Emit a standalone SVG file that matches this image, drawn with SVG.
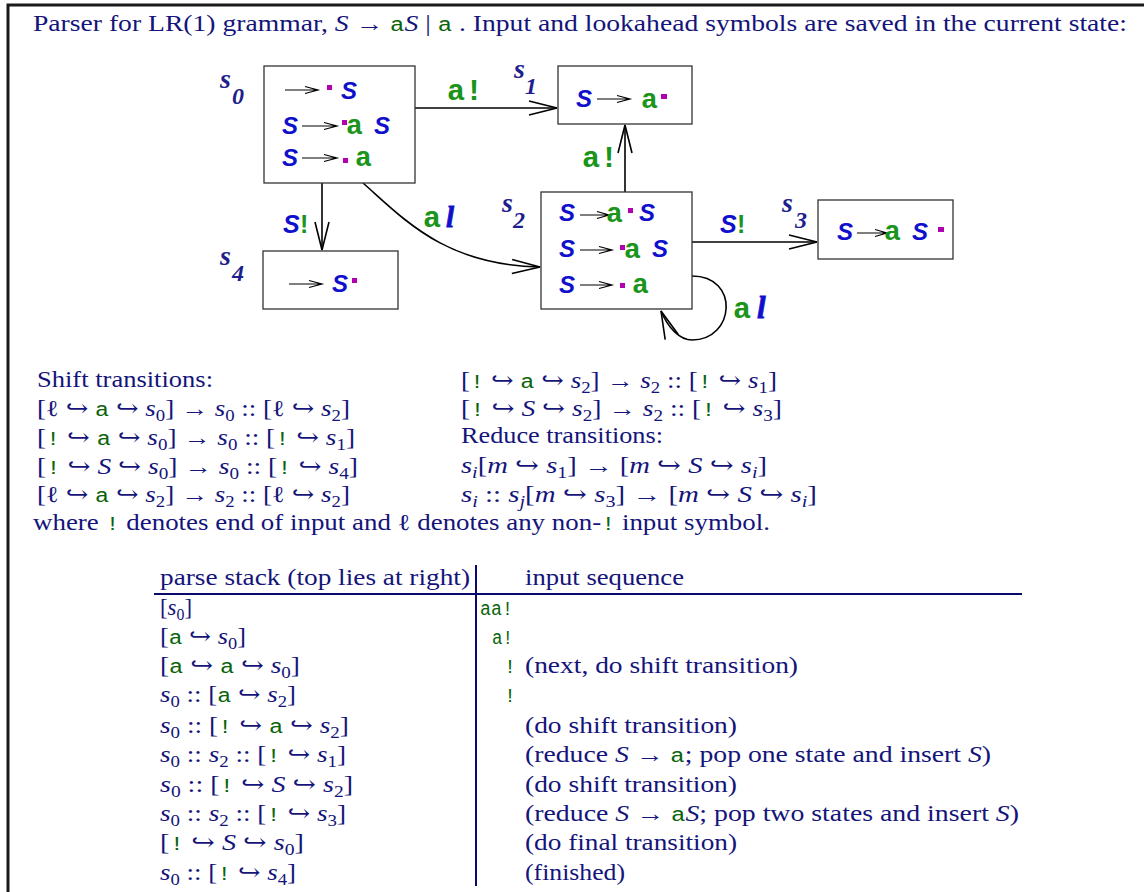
<svg xmlns="http://www.w3.org/2000/svg" width="1144" height="892" viewBox="0 0 1144 892">
<defs>
<marker id="ah" markerUnits="userSpaceOnUse" markerWidth="32" markerHeight="20" viewBox="-30 -10 32 20" refX="0" refY="0" orient="auto">
<path d="M-28,-7 L0,0 L-28,7" fill="none" stroke="#000" stroke-width="1.6"/>
</marker>
<style>
.t{font-family:"Liberation Serif","DejaVu Serif",serif;font-size:23px;fill:#14147a}
.i{font-style:italic}
.g{font-family:"Liberation Mono","DejaVu Sans Mono",monospace;fill:#0a640a;font-size:20px}
.sb{font-size:16px}
.S{font-family:"Liberation Sans",Arial,sans-serif;font-weight:bold;font-style:italic;font-size:24px;fill:#1010cc}
.A{font-family:"Liberation Mono","DejaVu Sans Mono",monospace;font-weight:bold;font-size:28px;fill:#1a941a}
.EA{font-family:"Liberation Mono","DejaVu Sans Mono",monospace;font-weight:bold;font-size:30px;fill:#1a941a}
.EX{font-family:"Liberation Sans",Arial,sans-serif;font-weight:bold;font-size:25px;fill:#1a941a}
.ES{font-family:"Liberation Sans",Arial,sans-serif;font-weight:bold;font-style:italic;font-size:25px;fill:#1010cc}
.ell{font-family:"Liberation Serif",serif;font-weight:bold;font-style:italic;fill:#1010cc;stroke:#1010cc;stroke-width:0.8}
.L{font-family:"Liberation Serif",serif;font-weight:bold;font-style:italic;font-size:28px;fill:#1e1e8c}
.Ls{font-size:24px}
.dot{fill:#b000b0}
.box{fill:#fff;stroke:#333;stroke-width:1.3}
.ia{stroke:#000;stroke-width:1.2;fill:none}
.edge{stroke:#000;stroke-width:1.6;fill:none;marker-end:url(#ah)}
.rule{stroke:#0a0a6e;stroke-width:2;fill:none}
</style>
</defs>
<rect width="1144" height="892" fill="#fff"/>
<path d="M8,892 V5 H1144" fill="none" stroke="#1a1a1a" stroke-width="3"/>

<text class="t" x="33" y="31" textLength="1094" lengthAdjust="spacingAndGlyphs">Parser for LR(1) grammar,  <tspan class="i">S</tspan> → <tspan class="g">a</tspan><tspan class="i">S</tspan> | <tspan class="g">a</tspan> . Input and lookahead symbols are saved in the current state:</text>

<g id="connectors">
<path class="edge" d="M415,108 H557"/>
<path class="edge" d="M322,183 V250"/>
<path class="edge" d="M363,183 C405,220 445,265 540,267"/>
<path class="edge" d="M625,192 V125"/>
<path class="edge" d="M692,242 H817"/>
<path class="edge" d="M692,276 C740,276 735,340 692,340 C680,340 668,328 661,311"/>
<text class="EA" x="447" y="100">a!</text>
<text x="283" y="233"><tspan class="ES">S</tspan><tspan class="EX" x="300">!</tspan></text>
<text x="423" y="227"><tspan class="EA">a</tspan><tspan class="ell" x="446" font-size="29">l</tspan></text>
<text class="EA" x="582" y="167">a!</text>
<text x="720" y="233"><tspan class="ES">S</tspan><tspan class="EX" x="737">!</tspan></text>
<text x="733" y="318"><tspan class="EA">a</tspan><tspan class="ell" x="757" font-size="31">l</tspan></text>
</g>

<g id="s0">
<rect class="box" x="264" y="66" width="151" height="117"/>
<text class="L" x="220" y="88">s</text><text class="L Ls" x="232" y="104">0</text>
<path class="ia" d="M285,90 H318 M305,86.5 L318,90 L305,93.5"/>
<rect class="dot" x="327" y="85" width="5" height="5"/>
<text class="S" x="341" y="99">S</text>
<text class="S" x="282" y="134">S</text>
<path class="ia" d="M302,126 H337 M324,122.5 L337,126 L324,129.5"/>
<rect class="dot" x="342" y="120" width="5" height="5"/>
<text class="A" x="346" y="134">a</text>
<text class="S" x="374" y="134">S</text>
<text class="S" x="282" y="166">S</text>
<path class="ia" d="M302,158 H337 M324,154.5 L337,158 L324,161.5"/>
<rect class="dot" x="343" y="158" width="5" height="5"/>
<text class="A" x="355" y="166">a</text>
</g>

<g id="s4">
<rect class="box" x="263" y="251" width="135" height="58"/>
<text class="L" x="220" y="265">s</text><text class="L Ls" x="232" y="281">4</text>
<path class="ia" d="M289,284 H322 M309,280.5 L322,284 L309,287.5"/>
<text class="S" x="332" y="292">S</text>
<rect class="dot" x="352" y="278" width="5" height="5"/>
</g>

<g id="s1">
<rect class="box" x="558" y="66" width="134" height="58"/>
<text class="L" x="514" y="78">s</text><text class="L Ls" x="525" y="94">1</text>
<text class="S" x="576" y="107">S</text>
<path class="ia" d="M597,99 H630 M617,95.5 L630,99 L617,102.5"/>
<text class="A" x="641" y="108">a</text>
<rect class="dot" x="661" y="94" width="6" height="5"/>
</g>

<g id="s2">
<rect class="box" x="541" y="192" width="151" height="117"/>
<text class="L" x="502" y="212">s</text><text class="L Ls" x="513" y="228">2</text>
<text class="S" x="559" y="221">S</text>
<path class="ia" d="M580,215 H609 M597,211.5 L609,215 L597,218.5"/>
<text class="A" x="606" y="222">a</text>
<rect class="dot" x="628" y="208" width="5" height="5"/>
<text class="S" x="639" y="221">S</text>
<text class="S" x="559" y="257">S</text>
<path class="ia" d="M580,250 H612 M599,246.5 L612,250 L599,253.5"/>
<rect class="dot" x="620" y="245" width="5" height="5"/>
<text class="A" x="624" y="258">a</text>
<text class="S" x="652" y="257">S</text>
<text class="S" x="559" y="293">S</text>
<path class="ia" d="M580,285 H612 M599,281.5 L612,285 L599,288.5"/>
<rect class="dot" x="620" y="283" width="5" height="5"/>
<text class="A" x="632" y="293">a</text>
</g>

<g id="s3">
<rect class="box" x="818" y="200" width="135" height="59"/>
<text class="L" x="782" y="212">s</text><text class="L Ls" x="795" y="228">3</text>
<text class="S" x="837" y="240">S</text>
<path class="ia" d="M857,233 H887 M875,229.5 L887,233 L875,236.5"/>
<text class="A" x="884" y="240">a</text>
<text class="S" x="912" y="240">S</text>
<rect class="dot" x="938" y="227" width="6" height="5"/>
</g>

<g id="transitions">
<text class="t" x="37" y="387" textLength="176" lengthAdjust="spacingAndGlyphs">Shift transitions:</text>
<text class="t" x="37" y="416" textLength="313" lengthAdjust="spacingAndGlyphs">[ℓ ↪ <tspan class="g">a</tspan> ↪ <tspan class="i">s</tspan><tspan class="sb" dy="5">0</tspan><tspan dy="-5">] → </tspan><tspan class="i">s</tspan><tspan class="sb" dy="5">0</tspan><tspan dy="-5"> :: [ℓ ↪ </tspan><tspan class="i">s</tspan><tspan class="sb" dy="5">2</tspan><tspan dy="-5">]</tspan></text>
<text class="t" x="37" y="445" textLength="318" lengthAdjust="spacingAndGlyphs">[<tspan class="g">!</tspan> ↪ <tspan class="g">a</tspan> ↪ <tspan class="i">s</tspan><tspan class="sb" dy="5">0</tspan><tspan dy="-5">] → </tspan><tspan class="i">s</tspan><tspan class="sb" dy="5">0</tspan><tspan dy="-5"> :: [</tspan><tspan class="g">!</tspan> ↪ <tspan class="i">s</tspan><tspan class="sb" dy="5">1</tspan><tspan dy="-5">]</tspan></text>
<text class="t" x="37" y="474" textLength="321" lengthAdjust="spacingAndGlyphs">[<tspan class="g">!</tspan> ↪ <tspan class="i">S</tspan> ↪ <tspan class="i">s</tspan><tspan class="sb" dy="5">0</tspan><tspan dy="-5">] → </tspan><tspan class="i">s</tspan><tspan class="sb" dy="5">0</tspan><tspan dy="-5"> :: [</tspan><tspan class="g">!</tspan> ↪ <tspan class="i">s</tspan><tspan class="sb" dy="5">4</tspan><tspan dy="-5">]</tspan></text>
<text class="t" x="37" y="502" textLength="313" lengthAdjust="spacingAndGlyphs">[ℓ ↪ <tspan class="g">a</tspan> ↪ <tspan class="i">s</tspan><tspan class="sb" dy="5">2</tspan><tspan dy="-5">] → </tspan><tspan class="i">s</tspan><tspan class="sb" dy="5">2</tspan><tspan dy="-5"> :: [ℓ ↪ </tspan><tspan class="i">s</tspan><tspan class="sb" dy="5">2</tspan><tspan dy="-5">]</tspan></text>
<text class="t" x="33" y="530" textLength="737" lengthAdjust="spacingAndGlyphs">where <tspan class="g">!</tspan> denotes end of input and ℓ denotes any non-<tspan class="g">!</tspan> input symbol.</text>

<text class="t" x="461" y="388" textLength="316" lengthAdjust="spacingAndGlyphs">[<tspan class="g">!</tspan> ↪ <tspan class="g">a</tspan> ↪ <tspan class="i">s</tspan><tspan class="sb" dy="5">2</tspan><tspan dy="-5">] → </tspan><tspan class="i">s</tspan><tspan class="sb" dy="5">2</tspan><tspan dy="-5"> :: [</tspan><tspan class="g">!</tspan> ↪ <tspan class="i">s</tspan><tspan class="sb" dy="5">1</tspan><tspan dy="-5">]</tspan></text>
<text class="t" x="461" y="416" textLength="321" lengthAdjust="spacingAndGlyphs">[<tspan class="g">!</tspan> ↪ <tspan class="i">S</tspan> ↪ <tspan class="i">s</tspan><tspan class="sb" dy="5">2</tspan><tspan dy="-5">] → </tspan><tspan class="i">s</tspan><tspan class="sb" dy="5">2</tspan><tspan dy="-5"> :: [</tspan><tspan class="g">!</tspan> ↪ <tspan class="i">s</tspan><tspan class="sb" dy="5">3</tspan><tspan dy="-5">]</tspan></text>
<text class="t" x="461" y="443" textLength="202" lengthAdjust="spacingAndGlyphs">Reduce transitions:</text>
<text class="t" x="461" y="473" textLength="306" lengthAdjust="spacingAndGlyphs"><tspan class="i">s</tspan><tspan class="sb i" dy="5">i</tspan><tspan dy="-5">[</tspan><tspan class="i">m</tspan> ↪ <tspan class="i">s</tspan><tspan class="sb" dy="5">1</tspan><tspan dy="-5">] → [</tspan><tspan class="i">m</tspan> ↪ <tspan class="i">S</tspan> ↪ <tspan class="i">s</tspan><tspan class="sb i" dy="5">i</tspan><tspan dy="-5">]</tspan></text>
<text class="t" x="461" y="502" textLength="356" lengthAdjust="spacingAndGlyphs"><tspan class="i">s</tspan><tspan class="sb i" dy="5">i</tspan><tspan dy="-5"> :: </tspan><tspan class="i">s</tspan><tspan class="sb i" dy="5">j</tspan><tspan dy="-5">[</tspan><tspan class="i">m</tspan> ↪ <tspan class="i">s</tspan><tspan class="sb" dy="5">3</tspan><tspan dy="-5">] → [</tspan><tspan class="i">m</tspan> ↪ <tspan class="i">S</tspan> ↪ <tspan class="i">s</tspan><tspan class="sb i" dy="5">i</tspan><tspan dy="-5">]</tspan></text>
</g>

<g id="table">
<path class="rule" d="M476,565 V886 M154,594 H1022"/>
<text class="t" x="160" y="585" textLength="310" lengthAdjust="spacingAndGlyphs">parse stack (top lies at right)</text>
<text class="t" x="525" y="585" textLength="159" lengthAdjust="spacingAndGlyphs">input sequence</text>

<text class="t" x="160" y="615" textLength="32" lengthAdjust="spacingAndGlyphs">[<tspan class="i">s</tspan><tspan class="sb" dy="5">0</tspan><tspan dy="-5">]</tspan></text>
<text class="t" x="160" y="644" textLength="86" lengthAdjust="spacingAndGlyphs">[<tspan class="g">a</tspan> ↪ <tspan class="i">s</tspan><tspan class="sb" dy="5">0</tspan><tspan dy="-5">]</tspan></text>
<text class="t" x="160" y="673" textLength="140" lengthAdjust="spacingAndGlyphs">[<tspan class="g">a</tspan> ↪ <tspan class="g">a</tspan> ↪ <tspan class="i">s</tspan><tspan class="sb" dy="5">0</tspan><tspan dy="-5">]</tspan></text>
<text class="t" x="160" y="702" textLength="136" lengthAdjust="spacingAndGlyphs"><tspan class="i">s</tspan><tspan class="sb" dy="5">0</tspan><tspan dy="-5"> :: [</tspan><tspan class="g">a</tspan> ↪ <tspan class="i">s</tspan><tspan class="sb" dy="5">2</tspan><tspan dy="-5">]</tspan></text>
<text class="t" x="160" y="733" textLength="189" lengthAdjust="spacingAndGlyphs"><tspan class="i">s</tspan><tspan class="sb" dy="5">0</tspan><tspan dy="-5"> :: [</tspan><tspan class="g">!</tspan> ↪ <tspan class="g">a</tspan> ↪ <tspan class="i">s</tspan><tspan class="sb" dy="5">2</tspan><tspan dy="-5">]</tspan></text>
<text class="t" x="160" y="762" textLength="186" lengthAdjust="spacingAndGlyphs"><tspan class="i">s</tspan><tspan class="sb" dy="5">0</tspan><tspan dy="-5"> :: </tspan><tspan class="i">s</tspan><tspan class="sb" dy="5">2</tspan><tspan dy="-5"> :: [</tspan><tspan class="g">!</tspan> ↪ <tspan class="i">s</tspan><tspan class="sb" dy="5">1</tspan><tspan dy="-5">]</tspan></text>
<text class="t" x="160" y="792" textLength="193" lengthAdjust="spacingAndGlyphs"><tspan class="i">s</tspan><tspan class="sb" dy="5">0</tspan><tspan dy="-5"> :: [</tspan><tspan class="g">!</tspan> ↪ <tspan class="i">S</tspan> ↪ <tspan class="i">s</tspan><tspan class="sb" dy="5">2</tspan><tspan dy="-5">]</tspan></text>
<text class="t" x="160" y="821" textLength="186" lengthAdjust="spacingAndGlyphs"><tspan class="i">s</tspan><tspan class="sb" dy="5">0</tspan><tspan dy="-5"> :: </tspan><tspan class="i">s</tspan><tspan class="sb" dy="5">2</tspan><tspan dy="-5"> :: [</tspan><tspan class="g">!</tspan> ↪ <tspan class="i">s</tspan><tspan class="sb" dy="5">3</tspan><tspan dy="-5">]</tspan></text>
<text class="t" x="160" y="850" textLength="144" lengthAdjust="spacingAndGlyphs">[<tspan class="g">!</tspan> ↪ <tspan class="i">S</tspan> ↪ <tspan class="i">s</tspan><tspan class="sb" dy="5">0</tspan><tspan dy="-5">]</tspan></text>
<text class="t" x="160" y="880" textLength="136" lengthAdjust="spacingAndGlyphs"><tspan class="i">s</tspan><tspan class="sb" dy="5">0</tspan><tspan dy="-5"> :: [</tspan><tspan class="g">!</tspan> ↪ <tspan class="i">s</tspan><tspan class="sb" dy="5">4</tspan><tspan dy="-5">]</tspan></text>

<text class="g" x="480" y="615" textLength="33" lengthAdjust="spacingAndGlyphs">aa!</text>
<text class="g" x="492" y="644" textLength="21" lengthAdjust="spacingAndGlyphs">a!</text>
<text class="g" x="504" y="673">!</text>
<text class="t" x="525" y="673" textLength="273" lengthAdjust="spacingAndGlyphs">(next, do shift transition)</text>
<text class="g" x="504" y="702">!</text>
<text class="t" x="525" y="733" textLength="212" lengthAdjust="spacingAndGlyphs">(do shift transition)</text>
<text class="t" x="525" y="762" textLength="466" lengthAdjust="spacingAndGlyphs">(reduce <tspan class="i">S</tspan> → <tspan class="g">a</tspan>; pop one state and insert <tspan class="i">S</tspan>)</text>
<text class="t" x="525" y="792" textLength="212" lengthAdjust="spacingAndGlyphs">(do shift transition)</text>
<text class="t" x="525" y="821" textLength="494" lengthAdjust="spacingAndGlyphs">(reduce <tspan class="i">S</tspan> → <tspan class="g">a</tspan><tspan class="i">S</tspan>; pop two states and insert <tspan class="i">S</tspan>)</text>
<text class="t" x="525" y="850" textLength="212" lengthAdjust="spacingAndGlyphs">(do final transition)</text>
<text class="t" x="525" y="880" textLength="100" lengthAdjust="spacingAndGlyphs">(finished)</text>
</g>
</svg>
